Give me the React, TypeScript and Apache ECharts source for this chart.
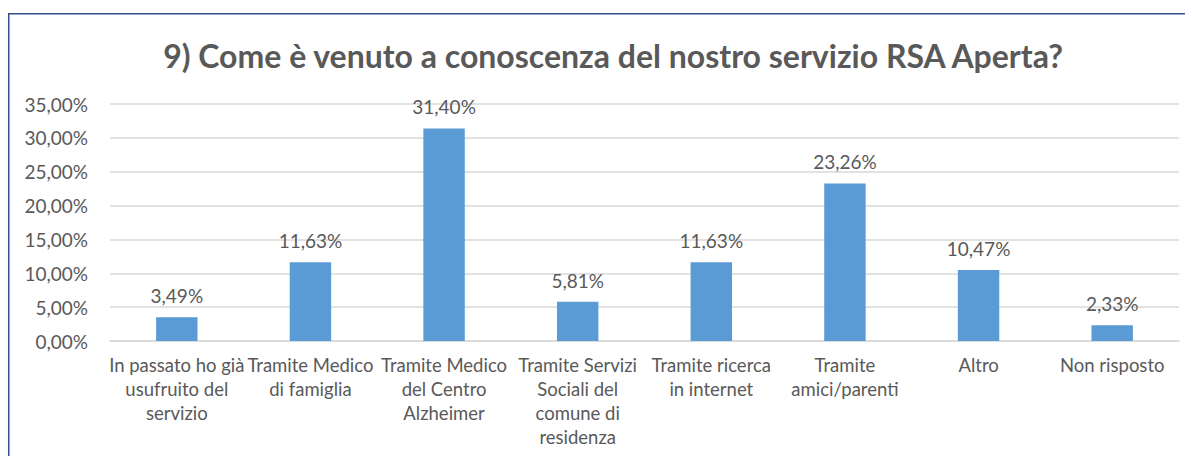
import React, { useEffect, useRef } from "react";
import * as echarts from "echarts";

const titleText = "9) Come è venuto a conoscenza del nostro servizio RSA Aperta?";
const categories = [
  "In passato ho già\nusufruito del\nservizio",
  "Tramite Medico\ndi famiglia",
  "Tramite Medico\ndel Centro\nAlzheimer",
  "Tramite Servizi\nSociali del\ncomune di\nresidenza",
  "Tramite ricerca\nin internet",
  "Tramite\namici/parenti",
  "Altro",
  "Non risposto",
];
const values = [3.49, 11.63, 31.4, 5.81, 11.63, 23.26, 10.47, 2.33];
const yMax = 35;
const yInterval = 5;

const fmt = (v: number) => v.toFixed(2).replace(".", ",") + "%";
const FONT = "Lato, 'Open Sans', sans-serif";

export default function App() {
  const ref = useRef<HTMLDivElement>(null);
  useEffect(() => {
    if (!ref.current) return;
    const chart = echarts.init(ref.current, null, { renderer: "svg" });
    chart.setOption({
      animation: false,
      backgroundColor: "#ffffff",
      textStyle: { fontFamily: FONT },
      title: {
        text: titleText,
        left: 600,
        top: 26,
        textAlign: "center",
        textStyle: { fontFamily: FONT, fontSize: 32, fontWeight: "bold", color: "#595959" },
      },
      graphic: [
        {
          type: "rect",
          shape: { x: 0.75, y: 5.75, width: 1300, height: 600 },
          style: { fill: "none", stroke: "#2F4F8F", lineWidth: 1.5 },
          silent: true,
          z: 100,
        },
      ],
      grid: { left: 102, right: 14, top: 96, bottom: 115, containLabel: false },
      xAxis: {
        type: "category",
        data: categories,
        axisLine: { show: true, lineStyle: { color: "#D9D9D9", width: 1.5 } },
        axisTick: { show: false },
        axisLabel: {
          interval: 0,
          fontFamily: FONT,
          fontSize: 18.5,
          lineHeight: 24,
          color: "#595959",
          margin: 12,
        },
      },
      yAxis: {
        type: "value",
        min: 0,
        max: yMax,
        interval: yInterval,
        axisLine: { show: false },
        axisTick: { show: false },
        splitLine: { lineStyle: { color: "#D9D9D9", width: 1.5 } },
        axisLabel: {
          formatter: (v: number) => fmt(v),
          fontFamily: FONT,
          fontSize: 19,
          color: "#595959",
          margin: 22,
        },
      },
      series: [
        {
          type: "bar",
          data: values,
          barWidth: "31%",
          itemStyle: { color: "#5B9BD5" },
          label: {
            show: true,
            position: "top",
            distance: 12,
            formatter: (p: any) => fmt(p.value),
            fontFamily: FONT,
            fontSize: 19,
            color: "#595959",
          },
        },
      ],
    });
    return () => chart.dispose();
  }, []);
  return <div ref={ref} style={{ width: 1185, height: 448 }} />;
}
